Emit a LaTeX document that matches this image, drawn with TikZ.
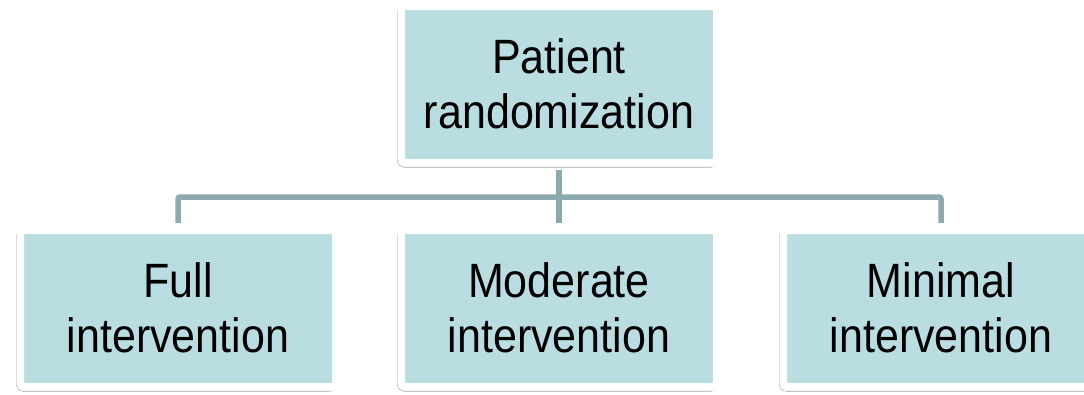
\documentclass[tikz,border=0pt]{standalone}
\usepackage{fontspec}
\setmainfont{Liberation Sans}
\usetikzlibrary{shadows.blur}
\definecolor{boxfill}{RGB}{185,221,225}
\definecolor{linkcol}{RGB}{141,170,173}
% two centred lines, slightly tall type, last baseline placed below the node centre
\newcommand\boxtext[1]{\raisebox{-43.6pt}[0pt][0pt]{\scalebox{1}[1.12]{%
  \begin{tabular}[b]{@{}c@{}}#1\end{tabular}}}}
\tikzset{
  stagebox/.style={draw=white, line width=7.5pt, rounded corners=4pt, fill=boxfill,
    minimum width=315.5pt, minimum height=156.5pt, inner sep=0pt,
    blur shadow={shadow xshift=-1.5pt, shadow yshift=-2pt, shadow blur steps=6,
      shadow blur radius=2.5pt, shadow opacity=65},
    text=black, font=\fontsize{43}{49.1}\selectfont},
  link/.style={draw=linkcol, line width=5.5pt, rounded corners=2pt},
}
\begin{document}
\begin{tikzpicture}[x=1pt,y=-1pt]
  \useasboundingbox (0,0) rectangle (1084,394);
  \fill[white] (0,0) rectangle (1084,394);
  \begin{scope}
    \clip (0,0) rectangle (1084,394);
    \coordinate (bus) at (559,197);
    \node[stagebox] (top) at (559,84.5) {\boxtext{Patient\\randomization}};
    \node[stagebox] (full) at (178,308.5) {\boxtext{Full\\intervention}};
    \node[stagebox] (moderate) at (559,308.5) {\boxtext{Moderate\\intervention}};
    \node[stagebox] (minimal) at (941,308.5) {\boxtext{Minimal\\intervention}};
    % connectors stop at the outer edge of the white frames
    \draw[link] ([yshift=-3.75pt]top.south) -- ([yshift=3.75pt]moderate.north);
    \draw[link] ([yshift=3.75pt]full.north) -- (full.north |- bus)
      -- (minimal.north |- bus) -- ([yshift=3.75pt]minimal.north);
  \end{scope}
\end{tikzpicture}
\end{document}
